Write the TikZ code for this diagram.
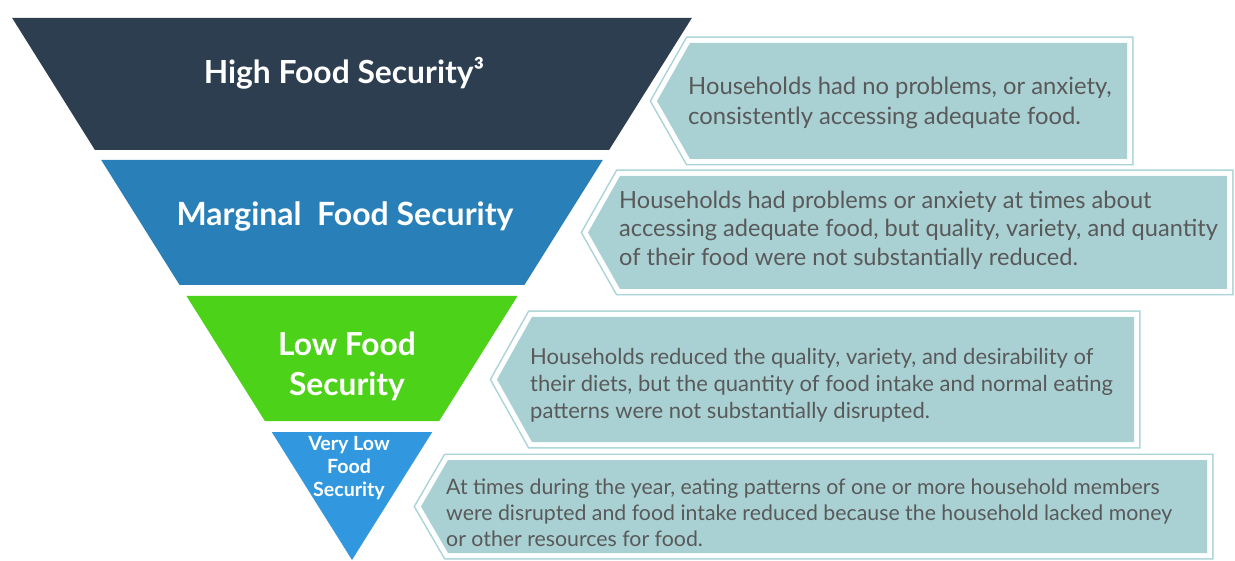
\documentclass[tikz,border=0pt]{standalone}
\usepackage{fontspec}
\setmainfont{Lato}
\definecolor{hfs}{HTML}{2C3E50}
\definecolor{mfs}{HTML}{2980B9}
\definecolor{lfs}{HTML}{4CD218}
\definecolor{vlfs}{HTML}{3198DF}
\definecolor{boxfill}{HTML}{A9D1D4}
\definecolor{boxline}{HTML}{A9D3D7}
\definecolor{boxtext}{HTML}{595959}
\begin{document}
\begin{tikzpicture}[x=1pt, y=-1pt,
    lvl/.style={text=white, font=\bfseries, align=center},
    desc/.style={text=boxtext, anchor=west, align=left, inner sep=0pt},
    boxedge/.style={draw=boxline, line width=13pt, line join=miter},
    boxgap/.style={draw=white, line width=10pt, line join=miter}
]
    \useasboundingbox (0,0) rectangle (1235,561);
    \foreach \t/\b/\col in {18/150/hfs, 160/285/mfs, 296/421/lfs, 432/560/vlfs} {
        \fill[\col] ({352-0.627*(560-\t)},\t) -- ({352+0.627*(560-\t)},\t)
            -- ({352+0.627*(560-\b)},\b) -- ({352-0.627*(560-\b)},\b) -- cycle;
    }
    \foreach \px/\cx/\t/\b/\r in {657/690/43/159/1127, 588/620/176/289/1227, 497/532/317/442/1134, 421/448/460/553/1207} {
        \draw[boxedge] (\px,{(\t+\b)/2}) -- (\cx,\t) -- (\r,\t) -- (\r,\b) -- (\cx,\b) -- cycle;
        \draw[boxgap] (\px,{(\t+\b)/2}) -- (\cx,\t) -- (\r,\t) -- (\r,\b) -- (\cx,\b) -- cycle;
        \fill[boxfill] (\px,{(\t+\b)/2}) -- (\cx,\t) -- (\r,\t) -- (\r,\b) -- (\cx,\b) -- cycle;
    }
    \node[lvl, font=\fontsize{31.8}{36}\selectfont\bfseries] (l1) at (344,73) {High Food Security³};
    \node[lvl, font=\fontsize{32}{36}\selectfont\bfseries] (l2) at (345,217) {Marginal\ \ Food Security};
    \node[lvl, font=\fontsize{31.7}{40}\selectfont\bfseries] (l3) at (347,366) {Low Food\\Security};
    \node[lvl, font=\fontsize{19.6}{23}\selectfont\bfseries] (l4) at (349,468) {Very Low\\Food\\Security};
    \node[desc, font=\fontsize{23.8}{30}\selectfont] (d1) at (688,103)
        {Households had no problems, or anxiety,\\consistently accessing adequate food.};
    \node[desc, font=\fontsize{23.6}{28.5}\selectfont] (d2) at (619,230)
        {Households had problems or anxiety at times about\\accessing adequate food, but quality, variety, and quantity\\of their food were not substantially reduced.};
    \node[desc, font=\fontsize{22}{27}\selectfont] (d3) at (530,385)
        {Households reduced the quality, variety, and desirability of\\their diets, but the quantity of food intake and normal eating\\patterns were not substantially disrupted.};
    \node[desc, font=\fontsize{21.3}{26}\selectfont] (d4) at (446,513)
        {At times during the year, eating patterns of one or more household members\\were disrupted and food intake reduced because the household lacked money\\or other resources for food.};
\end{tikzpicture}
\end{document}
